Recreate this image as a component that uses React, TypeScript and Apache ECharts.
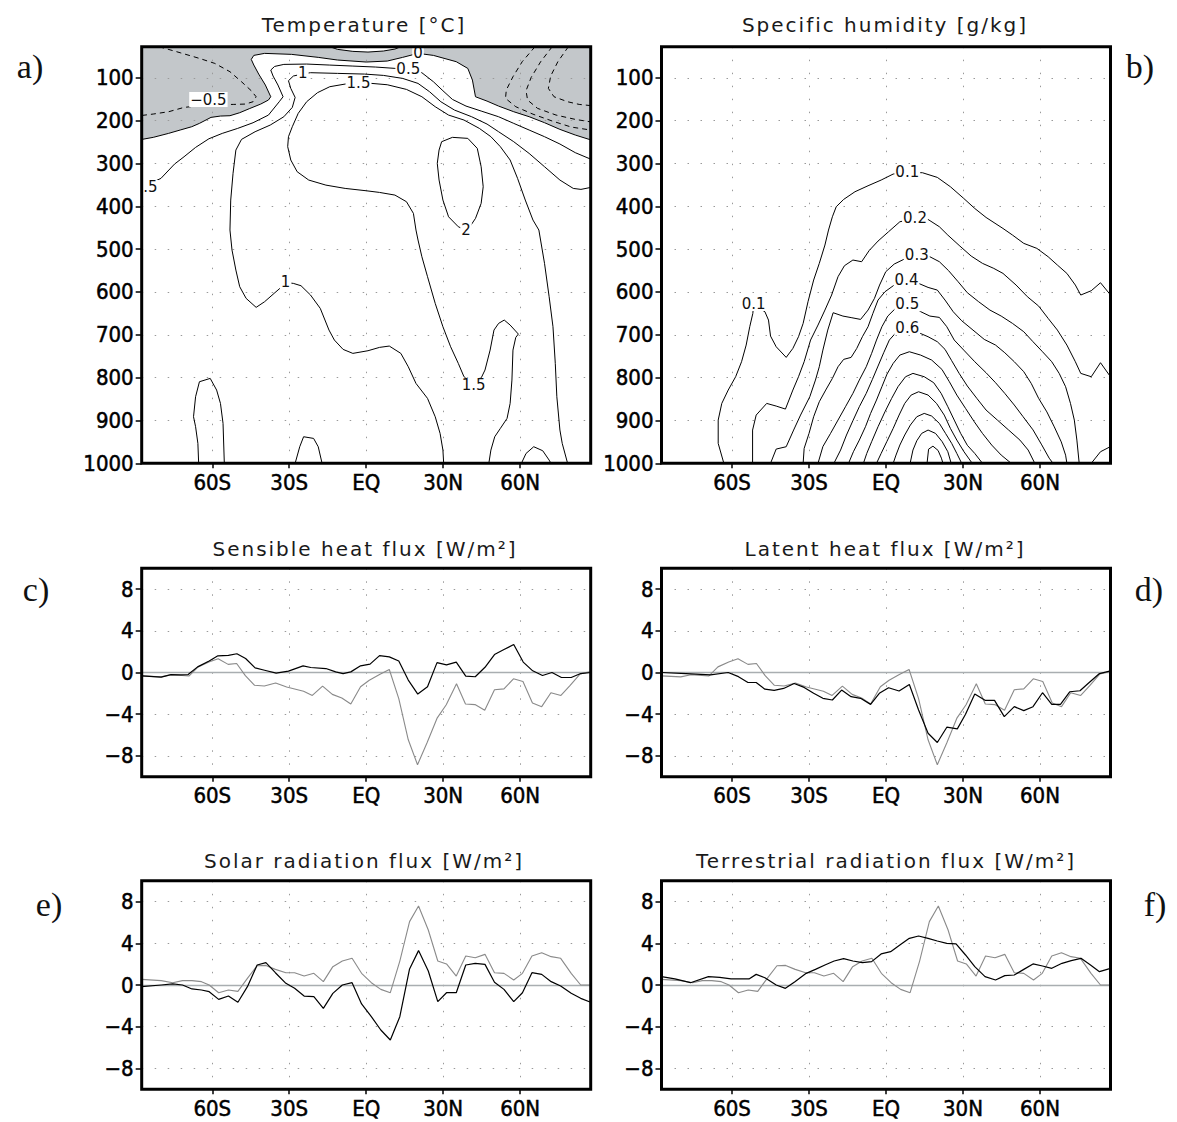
import React, { useEffect, useRef } from 'react';
import * as echarts from 'echarts';

type Pt = [number, number];

// ---------- axes / ticks ----------
const LAT_MIN = -87.5;
const LAT_MAX = 87.5;
const P_TOP = 27.5;
const P_SURF = 1000;
const FLUX_MIN = -10;
const FLUX_MAX = 10;
const LAT_TICKS = [-60, -30, 0, 30, 60];
const LAT_LABELS = ['60S', '30S', 'EQ', '30N', '60N'];
const PRESSURE_TICKS = [100, 200, 300, 400, 500, 600, 700, 800, 900, 1000];
const FLUX_TICKS = [-8, -4, 0, 4, 8];
const FLUX_LABELS = ['−8', '−4', '0', '4', '8'];

const TITLES = [
  'Temperature [°C]',
  'Specific humidity [g/kg]',
  'Sensible heat flux [W/m²]',
  'Latent heat flux [W/m²]',
  'Solar radiation flux [W/m²]',
  'Terrestrial radiation flux [W/m²]',
];
const PANEL_LETTERS = ['a)', 'b)', 'c)', 'd)', 'e)', 'f)'];

// ---------- panel a: temperature contours [lat, hPa] ----------
const T_ZERO: Pt[] = [[-87.5,244],[-83.0,239.1],[-77.0,229.8],[-72.5,222.0],[-68.0,214.3],[-65.0,206.5],[-60.5,192.5],[-56.8,189.4],[-53.1,188.6],[-49.3,181.6],[-45.6,172.3],[-41.1,161.4],[-38.1,152.0],[-37.2,144.3],[-39.3,117.0],[-41.9,91.4],[-43.8,70.3],[-44.8,57.1],[-43.8,47.8],[-39.6,43.1],[-29.1,45.4],[-18.7,52.4],[-11.2,58.6],[0,63.3],[8.2,61.0],[14.2,52.4],[20.2,43.1],[26.2,47.8],[35.1,62.5],[39.6,78.2],[41.4,105.4],[42.6,144.3],[47.1,154.5],[51.6,166.1],[57.5,179.3],[63.5,190.9],[69.5,204.9],[75.5,220.5],[81.5,233.7],[87.5,245]];
const T_LENS: Pt[] = [[-14.2,27.5],[-11.2,33.7],[-5.2,38.4],[0.7,40],[6.7,37.6],[11.2,33],[13.5,27.5]];
const T_HALF: Pt[] = [[-87.5,356],[-80.0,334.9],[-74.7,301.5],[-71.0,284.4],[-66.5,262.6],[-61.3,242.4],[-56.1,229.9],[-50.1,218.2],[-44.1,205.0],[-38.1,187.1],[-33.9,156.0],[-32.4,144.3],[-34.4,117.0],[-36.3,96.0],[-37.2,82.0],[-35.7,73.6],[-32.1,68.8],[-23.2,68.0],[-14.2,70.4],[-5.2,72.7],[3.7,75.0],[11.2,78.1],[16.4,80],[21.7,88.3],[26.2,109.3],[29.9,130.3],[33.6,150.5],[38.9,166.1],[44.8,177.7],[51.6,191.0],[57.5,206.5],[63.5,222.0],[69.5,237.6],[75.5,254.7],[81.5,274.9],[87.5,290]];
const T_ONE: Pt[] = [[87.5,356],[83.7,360.6],[80.7,358.3],[75.5,338.8],[69.5,307.7],[63.5,276.6],[57.5,249.3],[51.6,226.0],[47.1,208.1],[41.1,191.0],[34.4,175.4],[29.1,156.0],[24.7,132.6],[20.2,113.2],[14.2,101.5],[6.7,94.5],[-0.7,91.4],[-11.2,89.8],[-21.7,88.2],[-24.7,91],[-28.4,96.0],[-30.3,106.9],[-29.4,124.8],[-27.7,145.9],[-28.8,169.2],[-32.1,191.0],[-37.4,210.4],[-43.3,226.0],[-48.6,243.9],[-50.8,268.8],[-51.9,323.2],[-52.8,385.5],[-53.1,455.5],[-52.3,502.2],[-50.8,548.9],[-49.3,587.8],[-46.8,615.0],[-42.9,636.0],[-39.6,622.8],[-35.9,603.4],[-32.9,587.8],[-31.4,578],[-28.4,580.0],[-25.4,585.5],[-21.7,607.2],[-17.9,638.4],[-14.5,689.0],[-12.4,712.3],[-9.0,734.1],[-5.2,743.4],[0.7,737.2],[5.2,729.4],[9.0,726.3],[13.5,743.4],[16.4,774.6],[19.4,813.5],[23.9,848.5],[26.9,891.3],[28.8,930.2],[29.9,969.1],[30.2,1000]];
const T_ONE_HALF: Pt[] = [[47.8,1000],[48.6,969.1],[50.1,938.0],[52.3,918.5],[54.9,895.2],[56.1,860.2],[56.8,805.7],[57.2,735.7],[58.3,706.1],[59.3,698.3],[56.1,677.3],[53.8,665.6],[51.6,673.4],[49.8,689.0],[48.3,735.7],[46.3,782.3],[44.1,809.6],[41.9,816],[38.1,797.9],[35.9,766.8],[32.9,727.9],[29.9,681.2],[26.9,626.7],[23.9,564.4],[21.7,517.8],[20.2,478.8],[19.4,455.5],[18.4,416.6],[15.7,389.4],[11.2,373.9],[5.2,367.7],[0,363.8],[-8.2,358.3],[-15.7,350.6],[-22.4,338.8],[-26.9,319.4],[-29.4,292.0],[-30.6,260.9],[-30.3,237.6],[-28.8,214.3],[-26.5,183.1],[-23.2,155.9],[-19.0,134.9],[-14.2,120.9],[-8.2,114.7],[-3.0,111.6],[2.2,113.2],[8.2,116.3],[15.7,127.2],[21.7,144.3],[26.9,167.6],[32.1,187.1],[38.1,198.7],[44.1,218.2],[48.6,237.6],[52.3,261.0],[56.1,292.0],[59.0,334.9],[62.0,385.5],[65.0,432.2],[67.3,455.5],[69.5,533.3],[71.3,611.1],[72.8,681.2],[73.7,766.8],[74.3,844.6],[75.5,922.4],[76.4,953.5],[78.5,1000]];
const T_TWO: Pt[] = [[28.4,268.7],[29.4,249.3],[33.6,239.1],[39.6,241.5],[43.3,264.9],[44.8,307.7],[45.6,354.4],[44.8,393.3],[42.6,428.3],[40.4,447.8],[38.9,456],[35.9,447.8],[32.1,424.5],[29.9,385.5],[28.4,338.8],[27.7,299.9],[28.4,268.7]];
const T_BUMP_SH: Pt[] = [[-65.3,1000],[-65.6,953.5],[-66.5,914.6],[-67.3,891.3],[-66.5,844.6],[-65.0,809.6],[-60.8,801.8],[-58.3,829.0],[-56.8,860.2],[-55.8,906.9],[-55.3,1000]];
const T_BUMP_SUB: Pt[] = [[-27.7,1000],[-25.9,961.3],[-24.4,938.0],[-20.5,941.9],[-18.7,961.3],[-17.2,1000]];
const T_BUMP_NH: Pt[] = [[60.5,1000],[62.3,977],[65.3,961.3],[68.8,970.7],[71.3,992.5],[72.0,1000]];
const T_NEG_SH: Pt[] = [[-80.7,27.5],[-72.5,41.6],[-65.0,54.8],[-59.0,66.5],[-53.1,85.9],[-48.6,109.3],[-44.8,130.3],[-42.9,144.3],[-44.1,156.0],[-47.1,161.4],[-51.6,162.2],[-61.3,163],[-71.0,169.2],[-77.0,179.3],[-83.0,184.7],[-87.5,188]];
const T_NEG_NH1: Pt[] = [[65.8,27.5],[60.8,62.5],[57.2,97.6],[54.6,128.7],[54.3,148.2],[58.3,167.6],[65.0,185],[72.5,201.0],[80.0,215.2],[87.5,222]];
const T_NEG_NH2: Pt[] = [[72.5,27.5],[68.0,62.5],[64.3,99.1],[62.3,130.3],[62.9,152.1],[66.8,171.5],[74.0,187.1],[81.5,197.2],[87.5,203]];
const T_NEG_NH3: Pt[] = [[78.8,27.5],[74.7,62.5],[71.9,96.0],[71.0,124.8],[73.2,144.3],[78.5,156.0],[83.0,162.2],[87.5,165]];
const T_LABELS: [string, number, number][] = [
  ['0', 20.2, 42], ['0.5', 16.4, 79], ['1', -24.7, 90], ['1.5', -3.0, 111.6], ['−0.5', -61.5, 151],
  ['0.5', -86.0, 356], ['2', 38.9, 456], ['1', -31.4, 577], ['1.5', 41.9, 818],
];

// ---------- panel b: specific humidity contours [lat, hPa] ----------
const Q01: Pt[] = [[-63.2,1000],[-65.4,953.5],[-65.4,899.1],[-64.0,860.2],[-61.5,829.0],[-58.6,797.9],[-56.3,762.9],[-54.5,724.0],[-53.1,681.2],[-51.9,650.1],[-51.6,630],[-47.2,646.2],[-45.8,665.6],[-45.0,703],[-42.8,727.9],[-38.9,752.8],[-36.3,731.8],[-34.1,704.5],[-32.3,673.4],[-30.4,622.8],[-28.2,572.2],[-26.0,533.3],[-23.8,490.5],[-22.4,455.5],[-20.9,424.5],[-19.4,401.1],[-16.5,384],[-12.1,366.1],[-7.0,352.1],[-1.9,338.8],[2.8,324.8],[8.3,321],[14.2,321.7],[20.0,332.6],[25.1,354.4],[30.3,381.7],[34.6,405.1],[39.0,426.1],[45.6,451.8],[49.3,467.2],[53.7,486.6],[58.8,498.3],[63.2,517.8],[66.8,537.2],[70.5,556.7],[73.8,583.9],[75.9,607.2],[80.0,597.1],[83.6,578.5],[87.5,607]];
const Q02: Pt[] = [[-52.0,1000],[-52.0,922.4],[-50.6,887.4],[-46.5,860.2],[-42.8,866.4],[-39.2,873.4],[-36.3,829],[-34.1,797.9],[-31.9,762.9],[-29.4,712.3],[-26.5,677.3],[-23.8,642.3],[-21.2,607.2],[-18.7,564.4],[-16.2,538.8],[-12.9,525.5],[-9.5,529.4],[-6.6,503.7],[-3.1,481.2],[1.0,459.4],[5.4,436.2],[11.3,428.4],[16.4,430.8],[20.8,447.8],[24.1,467.3],[28.8,492.9],[33.2,516.2],[37.6,533.3],[42.0,545],[45.6,556.7],[50.7,583.9],[55.1,611.1],[59.5,633],[63.2,661.7],[66.8,689],[70.5,724],[73.8,762.9],[75.9,790.1],[80.0,797.9],[83.6,765.2],[87.5,798]];
const Q03: Pt[] = [[-45.0,1000],[-42.8,966.8],[-38.9,961.3],[-36.0,922.4],[-33.3,887.4],[-29.7,844.6],[-27.5,805.7],[-26.0,774.6],[-24.6,735.7],[-22.7,689],[-20.6,648.5],[-16.8,656.3],[-13.3,660.2],[-9.9,664.1],[-7.0,642.3],[-4.5,615],[-2.5,583.9],[-0.1,552.8],[3.2,534.9],[6.9,524],[12.0,514],[17.1,517.8],[20.8,529.4],[24.4,550.4],[28.1,576.1],[31.7,601.8],[36.1,622.8],[40.5,642.3],[44.9,656.3],[49.3,673.4],[53.7,692.9],[57.3,716.2],[61.0,739.6],[64.6,762.9],[67.5,790.1],[70.0,821.2],[71.9,860.2],[73.4,899.1],[74.4,945.8],[75.3,1000]];
const Q03_CORNER: Pt[] = [[80.0,1000],[83.6,973],[87.5,961]];
const Q04: Pt[] = [[-32.3,1000],[-31.9,965.2],[-30.0,930.2],[-28.2,891.3],[-26.0,856.3],[-23.5,829],[-20.9,801.8],[-18.7,774.6],[-16.5,757.4],[-13.6,752.8],[-11.4,731.8],[-9.2,704.5],[-7.0,681.2],[-5.1,650],[-3.1,618.9],[-0.4,599.5],[3.2,583.9],[8.0,572],[12.7,580],[16.4,589.4],[20.0,595.6],[23.0,618.9],[26.2,646.2],[29.5,667.2],[33.9,689],[38.3,710.8],[42.7,724],[46.3,741.9],[50.0,762.9],[53.7,786.2],[56.6,813.5],[59.5,848.5],[62.7,880],[65.6,915],[68.3,950],[70.0,981],[70.5,1000]];
const Q05: Pt[] = [[-26.5,1000],[-24.6,961],[-21.6,930],[-18.7,899],[-15.8,868],[-12.9,836.8],[-10.4,805.7],[-7.7,774.6],[-5.6,743.4],[-3.7,712.3],[-1.6,681.2],[0.7,656.3],[3.7,638.4],[8.3,628.3],[13.5,646],[17.1,656.3],[20.8,659.4],[23.7,681.2],[26.6,712.3],[30.3,735.7],[34.6,762.9],[39.0,788.6],[42.7,811.9],[46.3,836.8],[50.0,864],[53.4,891],[57.3,922],[60.7,957],[63.6,988],[65.1,1000]];
const Q06: Pt[] = [[-20.3,1000],[-17.7,969.1],[-15.4,934],[-12.9,900.6],[-10.4,867.9],[-7.7,836.8],[-5.3,804.1],[-3.1,773],[-0.9,741.9],[1.3,712.3],[4.2,692.9],[8.3,682.7],[12.7,695],[16.4,704.5],[20.0,716.2],[23.0,734],[25.6,760.5],[28.5,790],[31.7,819.6],[35.4,848.4],[39.0,875.7],[43.4,899],[47.8,922.4],[52.2,945.8],[55.4,969],[58.0,1000]];
const Q07: Pt[] = [[-14.6,1000],[-12.7,973],[-10.4,945.8],[-8.0,914.6],[-6.0,883.5],[-3.7,852.3],[-1.6,821.2],[0.4,791.7],[2.8,766.8],[5.4,747.4],[9.1,739.6],[13.5,747.4],[17.8,759],[21.8,780.8],[24.7,809.6],[27.6,840.7],[31.0,871.8],[34.4,903],[37.6,930.2],[41.2,957.4],[44.9,980.8],[48.8,1000]];
const Q08: Pt[] = [[-8.8,1000],[-7.5,977],[-5.6,949.6],[-3.1,914.6],[-0.4,879.6],[2.2,848.5],[4.7,821],[7.6,798],[10.5,790.1],[14.9,797.9],[18.6,811.9],[21.5,836.8],[24.1,867.9],[26.6,899.1],[29.1,930.2],[31.7,958],[34.6,977],[37.6,1000]];
const Q09: Pt[] = [[-3.7,1000],[-1.9,977],[0.3,949.6],[2.8,918.5],[5.1,887.4],[7.3,860.2],[9.8,840.7],[12.7,833],[16.4,840.7],[19.7,860.2],[22.7,887.4],[25.1,918.5],[27.6,945.8],[30.4,973],[33.6,1000]];
const Q10: Pt[] = [[2.8,1000],[3.9,980.8],[5.4,957.4],[7.3,934],[9.5,910.7],[12.0,891.3],[14.9,883.5],[17.8,889.7],[20.8,906.9],[23.2,930.2],[25.6,953.5],[27.6,977],[29.5,1000]];
const Q11: Pt[] = [[9.4,1000],[10.5,969.1],[12.0,947.4],[13.9,930.2],[16.4,922.4],[19.3,930.2],[21.9,949.6],[24.1,973],[25.4,1000]];
const Q12: Pt[] = [[16.0,1000],[16.6,967],[18.3,960],[20.3,970],[21.6,988],[22.2,1000]];
const Q_LABELS: [string, number, number][] = [
  ['0.1', 8.3, 321], ['0.2', 11.3, 428], ['0.3', 12.0, 514], ['0.4', 8.0, 572],
  ['0.5', 8.3, 628], ['0.6', 8.3, 683], ['0.1', -51.6, 627],
];

// ---------- panels c-f: surface fluxes [lat, W/m2] ----------
const SENSIBLE_BLACK: Pt[] = [[-87.5,-0.32],[-79.9,-0.45],[-76.1,-0.2],[-72.5,-0.22],[-69.4,-0.2],[-65.7,0.54],[-61.2,1.1],[-57.8,1.6],[-53.7,1.65],[-50.4,1.8],[-47.0,1.34],[-43.3,0.45],[-39.6,0.22],[-35.1,-0.06],[-30.3,0.13],[-24.6,0.64],[-21.6,0.48],[-15.7,0.38],[-11.9,0.06],[-9.0,-0.1],[-6.0,0.06],[-2.2,0.64],[1.5,0.8],[5.2,1.62],[9.0,1.5],[12.7,1.1],[16.4,-0.73],[20.1,-2.07],[23.9,-1.37],[27.6,0.95],[31.3,0.73],[35.1,1.0],[38.8,-0.35],[42.5,-0.41],[46.3,0.5],[50.0,1.72],[53.7,2.2],[57.5,2.68],[61.2,1.0],[64.9,0.16],[68.7,-0.29],[72.4,0],[76.1,-0.48],[79.9,-0.48],[83.6,-0.1],[87.5,0]];
const TURBULENT_GRAY: Pt[] = [[-87.5,-0.32],[-80,-0.42],[-76,-0.22],[-69,-0.33],[-65.5,0.54],[-61.3,1.0],[-57.7,1.32],[-53.8,0.78],[-50.5,0.86],[-47.1,-0.3],[-43.5,-1.23],[-39.7,-1.3],[-35.3,-1.0],[-31.0,-1.4],[-24.4,-1.8],[-21,-2.2],[-17,-1.3],[-13.2,-2.1],[-9.5,-2.45],[-6.0,-3.03],[-2.2,-1.37],[1.2,-0.75],[5.2,-0.2],[9.0,0.29],[12.7,-2.5],[16.4,-6.46],[20.0,-8.85],[23.8,-6.7],[27.7,-4.35],[31.2,-3.1],[35.2,-1.08],[38.7,-3.03],[42.4,-3.08],[46.2,-3.63],[50.0,-1.65],[53.7,-1.57],[57.4,-0.6],[61.1,-0.86],[64.8,-2.93],[68.4,-3.28],[72.0,-1.94],[75.9,-2.2],[79.5,-1.24],[83.4,-0.13],[87.5,0.1]];
const LATENT_BLACK: Pt[] = [[-87.5,0],[-77.9,-0.1],[-68.4,-0.22],[-61.5,0],[-57.5,-0.4],[-53.8,-0.96],[-50.6,-0.96],[-47.2,-1.6],[-43.6,-1.72],[-39.9,-1.53],[-35.8,-1.05],[-31.9,-1.43],[-28.2,-2.0],[-24.6,-2.48],[-20.9,-2.64],[-17.3,-1.69],[-13.6,-2.32],[-9.9,-2.48],[-6.0,-3.06],[-2.6,-2.0],[1.0,-1.46],[5.1,-1.78],[9.1,-1.15],[12.7,-3.6],[16.4,-5.83],[20.0,-6.72],[23.7,-5.25],[27.8,-5.41],[31.0,-4.0],[34.6,-2.07],[38.6,-2.67],[42.3,-2.67],[46.1,-4.24],[50.0,-3.28],[53.7,-3.66],[57.3,-3.28],[61.0,-1.94],[64.6,-3.06],[68.0,-3.06],[71.6,-1.85],[75.6,-1.75],[79.2,-0.96],[83.2,-0.1],[87.5,0.15]];
const SOLAR_BLACK: Pt[] = [[-87.5,-0.16],[-79.9,0],[-75.4,0.1],[-71.6,0],[-67.9,-0.38],[-64.2,-0.48],[-61.2,-0.64],[-57.5,-1.38],[-53.7,-1.06],[-50.0,-1.66],[-46.3,-0.16],[-42.5,1.92],[-39.1,2.14],[-35.4,1.18],[-31.3,0.16],[-27.9,-0.32],[-24.2,-1.06],[-20.4,-1.12],[-16.7,-2.24],[-13.0,-0.8],[-9.3,0],[-5.5,0.22],[-1.8,-1.82],[2.0,-3.04],[5.7,-4.32],[9.4,-5.28],[13.1,-3.04],[16.9,1.54],[20.4,3.3],[24.2,1.34],[27.9,-1.6],[31.3,-0.74],[35.1,-0.74],[38.8,1.92],[42.5,2.08],[46.3,1.98],[50.0,0.26],[53.7,-0.42],[57.5,-1.6],[60.9,-0.74],[64.6,1.18],[68.4,1.02],[72.1,0.32],[75.8,-0.1],[79.9,-0.8],[83.6,-1.28],[87.5,-1.65]];
const RADIATION_GRAY: Pt[] = [[-87.5,0.54],[-79.9,0.42],[-75.4,0.22],[-71.6,0.42],[-67.9,0.42],[-64.2,0.32],[-61.2,0],[-57.5,-0.74],[-53.7,-0.48],[-50.0,-0.61],[-46.3,0.64],[-42.5,1.85],[-39.1,1.88],[-35.4,1.5],[-31.3,1.18],[-27.9,1.18],[-24.2,0.86],[-20.4,1.12],[-16.7,0.32],[-13.0,1.76],[-9.3,2.3],[-5.5,2.56],[-1.8,1.12],[2.0,0.22],[5.7,-0.42],[9.4,-0.74],[13.1,2.3],[16.9,6.08],[20.4,7.58],[24.2,5.28],[27.9,2.3],[31.3,2.02],[35.1,0.86],[38.8,2.78],[42.5,2.62],[46.3,2.94],[50.0,1.18],[53.7,1.12],[57.5,0.48],[60.9,1.12],[64.6,2.78],[68.4,3.1],[72.1,2.72],[75.8,2.56],[79.9,1.12],[83.6,0],[87.5,0]];
const TERRESTRIAL_BLACK: Pt[] = [[-87.5,0.8],[-82.3,0.58],[-76.2,0.22],[-69.2,0.8],[-64.8,0.74],[-60.4,0.58],[-53.4,0.58],[-50.6,1.02],[-47.2,0.7],[-42.8,0],[-39.2,-0.32],[-35.5,0.32],[-31.1,1.12],[-27.5,1.5],[-23.8,1.92],[-20.2,2.3],[-16.5,2.53],[-12.9,2.3],[-9.2,2.14],[-5.6,2.24],[-1.9,2.98],[1.8,3.2],[5.4,3.84],[9.1,4.48],[12.7,4.7],[16.4,4.48],[20.0,4.22],[23.7,4.0],[27.3,3.94],[31.0,2.88],[34.6,1.76],[38.6,0.8],[42.7,0.48],[46.3,0.9],[50.0,0.96],[53.7,1.5],[57.3,2.02],[61.0,1.82],[64.6,1.6],[68.6,2.08],[72.2,2.34],[76.0,2.56],[79.7,1.92],[83.2,1.28],[87.5,1.6]];

// ---------- layout ----------
const PANELS = [
  { left: 141.7, top: 46.7, width: 449, height: 416.6, kind: 'p', titleX: 364, titleY: 25, letterX: 30, letterY: 66 },
  { left: 661.5, top: 46.7, width: 449, height: 416.6, kind: 'p', titleX: 885, titleY: 25, letterX: 1140, letterY: 66 },
  { left: 141.7, top: 568.3, width: 449, height: 208.4, kind: 'f', titleX: 365, titleY: 549, letterX: 36, letterY: 589 },
  { left: 661.5, top: 568.3, width: 449, height: 208.4, kind: 'f', titleX: 885, titleY: 549, letterX: 1149, letterY: 589 },
  { left: 141.7, top: 880.8, width: 449, height: 208.4, kind: 'f', titleX: 364, titleY: 861, letterX: 49, letterY: 904 },
  { left: 661.5, top: 880.8, width: 449, height: 208.4, kind: 'f', titleX: 886, titleY: 861, letterX: 1155, letterY: 904 },
];

const TICK_FONT = "'DejaVu Sans Condensed', 'DejaVu Sans', sans-serif";
const TEXT_FONT = "'DejaVu Sans', sans-serif";
const GRID_LINE = { color: '#9a9a9a', width: 1, type: [1.5, 11.5] };
const TICK_TEXT = { color: '#000', fontSize: 22, fontFamily: TICK_FONT, textBorderColor: '#000', textBorderWidth: 0.5 };

function contour(data: Pt[], gi: number, dashed = false) {
  return {
    type: 'line', xAxisIndex: gi, yAxisIndex: gi, data, symbol: 'none', showSymbol: false,
    silent: true, z: 3, clip: true,
    lineStyle: { color: '#000', width: 1, type: dashed ? [5, 4] : 'solid' },
  };
}

function labels(items: [string, number, number][], gi: number) {
  return {
    type: 'custom', xAxisIndex: gi, yAxisIndex: gi, clip: true, z: 4, silent: true,
    data: items.map((it) => [it[1], it[2]]),
    renderItem: (params: any, api: any) => {
      const it = items[params.dataIndex];
      const pt = api.coord([it[1], it[2]]);
      return {
        type: 'text', x: pt[0], y: pt[1],
        style: {
          text: it[0], fill: '#111', font: `15px ${TEXT_FONT}`,
          align: 'center', verticalAlign: 'middle', textAlign: 'center', textVerticalAlign: 'middle',
          backgroundColor: '#fff', padding: [0, 1],
        },
      };
    },
  };
}

function fluxPair(gray: Pt[], black: Pt[], gi: number) {
  return [
    {
      type: 'line', xAxisIndex: gi, yAxisIndex: gi, data: gray, symbol: 'none', silent: true, z: 3,
      lineStyle: { color: '#8a8a8a', width: 1.1 },
      markLine: {
        silent: true, symbol: 'none', label: { show: false }, z: 2,
        lineStyle: { color: '#a9aeb1', width: 1.3, type: 'solid' },
        data: [{ yAxis: 0 }],
      },
    },
    {
      type: 'line', xAxisIndex: gi, yAxisIndex: gi, data: black, symbol: 'none', silent: true, z: 4,
      lineStyle: { color: '#000', width: 1.2 },
    },
  ];
}

function buildOption() {
  const grid = PANELS.map((p) => ({ left: p.left, top: p.top, width: p.width, height: p.height }));
  const xAxis = PANELS.map((_, i) => ({
    type: 'value', gridIndex: i, min: LAT_MIN, max: LAT_MAX, z: 2,
    axisLine: { show: false, onZero: false },
    axisTick: { show: true, inside: false, length: 5, customValues: LAT_TICKS, lineStyle: { color: '#000', width: 1.5 } },
    axisLabel: {
      show: true, customValues: LAT_TICKS, margin: 8, ...TICK_TEXT,
      formatter: (v: number) => { const k = LAT_TICKS.indexOf(Number(v)); return k >= 0 ? LAT_LABELS[k] : ''; },
    },
    splitLine: { show: true, lineStyle: GRID_LINE },
  }));
  const yAxis = PANELS.map((p, i) => {
    const isP = p.kind === 'p';
    const ticks = isP ? PRESSURE_TICKS : FLUX_TICKS;
    return {
      type: 'value', gridIndex: i, z: 2,
      min: isP ? P_TOP : FLUX_MIN, max: isP ? P_SURF : FLUX_MAX, inverse: isP,
      axisLine: { show: false, onZero: false },
      axisTick: { show: true, inside: false, length: 6, customValues: ticks, lineStyle: { color: '#000', width: 1.5 } },
      axisLabel: {
        show: true, customValues: ticks, margin: 8, ...TICK_TEXT,
        formatter: (v: number) => {
          if (isP) return String(v);
          const k = FLUX_TICKS.indexOf(Number(v));
          return k >= 0 ? FLUX_LABELS[k] : '';
        },
      },
      splitLine: { show: true, lineStyle: GRID_LINE },
    };
  });

  const fillPoly: Pt[] = [[LAT_MIN, P_TOP], ...T_ZERO, [LAT_MAX, P_TOP], ...[...T_LENS].reverse()];

  const series: any[] = [
    {
      type: 'custom', xAxisIndex: 0, yAxisIndex: 0, clip: true, z: 1, silent: true,
      data: [[0, 500]],
      renderItem: (_p: any, api: any) => ({
        type: 'polygon',
        shape: { points: fillPoly.map((pt) => api.coord(pt)) },
        style: { fill: '#c3c7ca', stroke: 'none' },
      }),
    },
    ...[T_ZERO, T_LENS, T_HALF, T_ONE, T_ONE_HALF, T_TWO, T_BUMP_SH, T_BUMP_SUB, T_BUMP_NH].map((c) => contour(c, 0)),
    ...[T_NEG_SH, T_NEG_NH1, T_NEG_NH2, T_NEG_NH3].map((c) => contour(c, 0, true)),
    labels(T_LABELS, 0),
    ...[Q01, Q02, Q03, Q03_CORNER, Q04, Q05, Q06, Q07, Q08, Q09, Q10, Q11, Q12].map((c) => contour(c, 1)),
    labels(Q_LABELS, 1),
    ...fluxPair(TURBULENT_GRAY, SENSIBLE_BLACK, 2),
    ...fluxPair(TURBULENT_GRAY, LATENT_BLACK, 3),
    ...fluxPair(RADIATION_GRAY, SOLAR_BLACK, 4),
    ...fluxPair(RADIATION_GRAY, TERRESTRIAL_BLACK, 5),
  ];

  const graphic: any[] = [];
  PANELS.forEach((p, i) => {
    graphic.push({
      type: 'rect', z: 100, silent: true,
      shape: { x: p.left, y: p.top, width: p.width, height: p.height },
      style: { fill: 'none', stroke: '#000', lineWidth: 3 },
    });
    graphic.push({
      type: 'text', z: 100, silent: true, x: p.titleX, y: p.titleY,
      style: {
        text: TITLES[i], font: `20px ${TEXT_FONT}`, fill: '#1a1a1a',
        align: 'center', verticalAlign: 'middle', textAlign: 'center', textVerticalAlign: 'middle',
      },
    });
    graphic.push({
      type: 'text', z: 100, silent: true, x: p.letterX, y: p.letterY,
      style: {
        text: PANEL_LETTERS[i], font: `34px 'Liberation Serif', serif`, fill: '#111',
        align: 'center', verticalAlign: 'middle', textAlign: 'center', textVerticalAlign: 'middle',
      },
    });
  });

  return { animation: false, backgroundColor: '#fff', grid, xAxis, yAxis, series, graphic };
}

export default function App() {
  const ref = useRef<HTMLDivElement>(null);
  useEffect(() => {
    if (!ref.current) return;
    const chart = echarts.init(ref.current, undefined, { renderer: 'svg' });
    chart.setOption(buildOption() as any);
    return () => chart.dispose();
  }, []);
  return (
    <>
      <style>{'#fig text[style*="20px"]{letter-spacing:2px;}'}</style>
      <div
        id="fig"
        ref={ref}
        style={{ position: 'absolute', left: 0, top: 0, width: 1177, height: 1122, background: '#fff' }}
      />
    </>
  );
}
